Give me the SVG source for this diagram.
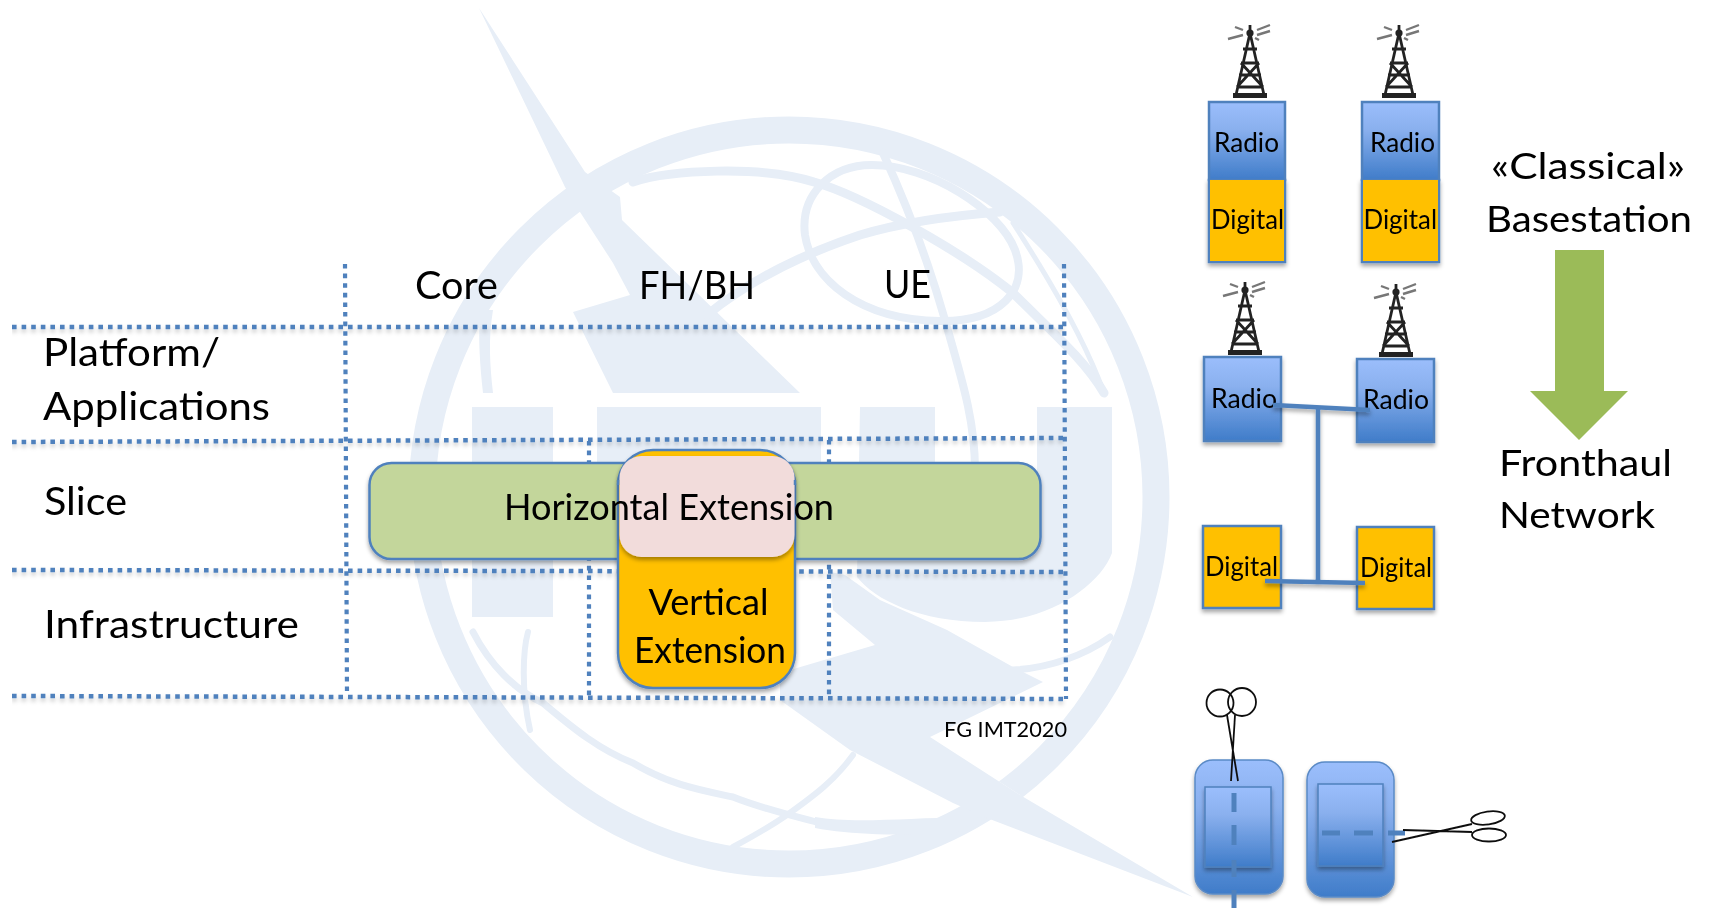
<svg xmlns="http://www.w3.org/2000/svg" xmlns:xlink="http://www.w3.org/1999/xlink" width="1712" height="908" viewBox="0 0 1712 908">
<style>
text{font-family:Lato,"Open Sans","Liberation Sans",sans-serif;fill:#000;text-anchor:start}
.lg{font-size:39px}.md{font-size:36px}.sm{font-size:27px}.xs{font-size:22px}
.wmf{fill:#e7eef7;stroke:none}
.wms{fill:none;stroke:#e7eef7;stroke-linecap:round}
.dot{fill:none;stroke:#4f81bd;stroke-width:4.5;stroke-dasharray:4.6 5}
.dotv{fill:none;stroke:#4f81bd;stroke-width:4.2;stroke-dasharray:4.6 5}
.box{stroke:#4f81bd;stroke-width:2.5}
.radio{fill:url(#blue)}.digital{fill:#ffc000}
.link{stroke:#4f81bd;stroke-width:4.5;fill:none}
.blade{stroke:#111;stroke-width:1.8;fill:none}
.tw{fill:none;stroke:#222;stroke-width:2.8}
.tw2{fill:none;stroke:#777;stroke-width:2.4}
</style>
<defs>
<linearGradient id="blue" x1="0" y1="0" x2="0" y2="1"><stop offset="0" stop-color="#9bbefc"/><stop offset=".35" stop-color="#8ab0ee"/><stop offset="1" stop-color="#3f7cc9"/></linearGradient>
<filter id="soft" x="0" y="0" width="100%" height="100%"><feGaussianBlur stdDeviation="0.55"/></filter>
<filter id="sh" x="-10%" y="-10%" width="120%" height="125%"><feDropShadow dx="0" dy="3" stdDeviation="2" flood-color="#000" flood-opacity=".35"/></filter>
<filter id="shl" x="-2%" y="-200%" width="104%" height="500%"><feDropShadow dx="0" dy="3" stdDeviation="2" flood-color="#000" flood-opacity=".22"/></filter>
<g id="tower">
<path class="tw" d="M0 6L-14 68M0 6L14 68M-9 36H9M-11 48H11M-13 60H13M-9 36L13 60M9 36L-13 60M-7 22H7"/>
<path d="M-17 66H17V71H-17Z" fill="#222"/>
<circle cx="0" cy="6" r="3.6" fill="#222"/><path class="tw" d="M0 -2V6"/>
<path class="tw2" d="M-7 3L-15 0M-7 8L-22 12M7 3L20 -2M7 8L20 4M5 11L9 13"/>
</g>
</defs>
<rect width="1712" height="908" fill="#fff"/>
<g filter="url(#soft)">
<g id="watermark">
<circle class="wms" cx="789" cy="497" r="367" stroke-width="27"/>
<path fill="#fff" d="M930 737L1020 795L1030 850L1000 822Z"/>
<path class="wmf" d="M479 8L585 172L620 197L622 220L800 393H613L573 312L630 295L613 263L580 212L565 187Z"/>
<path class="wms" stroke-width="9" d="M633 182C670 170 760 165 814 182C860 195 960 250 1013 293C1050 330 1085 360 1104 393"/>
<path class="wms" stroke-width="8" d="M872 165C830 165 800 195 805 235C812 280 860 320 940 321C1000 322 1030 290 1015 250C1000 210 930 165 872 165Z"/>
<path class="wms" stroke-width="9" d="M707 315C750 280 800 255 860 235C910 220 960 215 1000 212"/>
<path class="wms" stroke-width="8" d="M883 153C900 190 925 250 945 320C962 380 975 420 975 470"/>
<path class="wms" stroke-width="5" d="M1013 223C1050 280 1085 340 1104 393"/>
<path class="wmf" d="M480 310L493 310C488 340 490 365 493 393H483C480 365 478 340 480 310Z"/>
<path class="wmf" d="M472 407H553V617H472Z"/>
<path class="wmf" d="M597 407H821V465H749V620H669V465H597Z"/>
<path class="wmf" d="M860 407H935V520C945 545 1020 545 1037 520V407H1112V553C1100 585 1050 622 985 622C920 622 875 600 857 577Z"/>
<path class="wmf" d="M830 572L845 575L880 600L947 630L1013 667L1043 682L930 737L1020 795L1193 897L987 818L953 803L850 750L780 700V673L875 645L833 610Z"/>
<path class="wms" stroke-width="7" d="M1013 670C1050 668 1085 655 1110 637"/>
<path class="wms" stroke-width="7" d="M473 632C490 665 515 690 543 703C575 730 600 750 633 763C670 785 700 790 733 797C760 808 790 815 820 823"/>
<path class="wmf" d="M815 817C860 825 930 815 987 818L950 835C900 835 850 835 815 828Z"/>
<path class="wms" stroke-width="6" d="M853 755C835 780 815 795 787 815C765 830 750 838 733 847"/>
<path class="wms" stroke-width="6" d="M528 632C523 650 521 690 530 730"/>
</g>
<g id="connectors">
<g filter="url(#shl)">
<path class="dot" d="M12 327H1064"/>
<path class="dot" d="M12 442L1064 438"/>
<path class="dot" d="M12 570L1066 572"/>
<path class="dot" d="M12 696L1066 699"/>
</g>
<path class="dotv" d="M345 264L347 696"/>
<path class="dotv" d="M589 441V696"/>
<path class="dotv" d="M829 440V697"/>
<path class="dotv" d="M1064 264L1066 699"/>
</g>
<g id="labels">
<text class="lg" x="415" y="299" textLength="83" lengthAdjust="spacingAndGlyphs">Core</text>
<text class="lg" x="639" y="299" textLength="116" lengthAdjust="spacingAndGlyphs">FH/BH</text>
<text class="lg" x="884" y="298" textLength="47" lengthAdjust="spacingAndGlyphs">UE</text>
<text class="lg" x="43" y="366" textLength="177" lengthAdjust="spacingAndGlyphs">Platform/</text>
<text class="lg" x="43" y="420" textLength="227" lengthAdjust="spacingAndGlyphs">Applications</text>
<text class="lg" x="44" y="515" textLength="83" lengthAdjust="spacingAndGlyphs">Slice</text>
<text class="lg" x="44" y="638" textLength="255" lengthAdjust="spacingAndGlyphs">Infrastructure</text>
<text class="xs" x="944" y="737" textLength="123" lengthAdjust="spacingAndGlyphs">FG IMT2020</text>
</g>
<g id="horizontal-extension">
<rect class="box" x="369.500" y="463" width="671" height="96" rx="22" fill="#c3d69b" filter="url(#sh)"/>
</g>
<g id="vertical-extension">
<rect class="box" x="618" y="450" width="177" height="238" rx="35" fill="#ffc000" filter="url(#sh)"/>
<rect x="619.500" y="456" width="175" height="101" rx="22" fill="#f2dcdb" filter="url(#sh)"/>
<path d="M618 480V485M795 480V485" stroke="#4f81bd" stroke-width="2.500"/>
<text class="md" x="648.500" y="615" textLength="120" lengthAdjust="spacingAndGlyphs">Vertical</text>
<text class="md" x="634" y="663" textLength="152" lengthAdjust="spacingAndGlyphs">Extension</text>
</g>
<text class="md" x="504" y="520" textLength="330" lengthAdjust="spacingAndGlyphs">Horizontal Extension</text>
<g id="classical-1">
<use xlink:href="#tower" href="#tower" x="1250" y="27"/>
<rect class="box digital" x="1209" y="180" width="76" height="82" filter="url(#sh)"/>
<rect class="box radio" x="1209" y="102" width="76" height="78"/>
<rect x="1210" y="180" width="74" height="81" fill="#ffc000"/>
<text class="sm" x="1214" y="152" textLength="65" lengthAdjust="spacingAndGlyphs">Radio</text>
<text class="sm" x="1211" y="229" textLength="73" lengthAdjust="spacingAndGlyphs">Digital</text>
</g>
<g id="classical-2">
<use xlink:href="#tower" href="#tower" x="1399" y="27"/>
<rect class="box digital" x="1362" y="180" width="77" height="82" filter="url(#sh)"/>
<rect class="box radio" x="1362" y="102" width="77" height="78"/>
<rect x="1363" y="180" width="75" height="81" fill="#ffc000"/>
<text class="sm" x="1370" y="152" textLength="65" lengthAdjust="spacingAndGlyphs">Radio</text>
<text class="sm" x="1363.500" y="229" textLength="73.500" lengthAdjust="spacingAndGlyphs">Digital</text>
</g>
<g id="fronthaul-radio-1">
<use xlink:href="#tower" href="#tower" x="1245" y="284"/>
<rect class="box radio" x="1204" y="357" width="77" height="84" filter="url(#sh)"/>
<text class="sm" x="1211" y="408" textLength="66" lengthAdjust="spacingAndGlyphs">Radio</text>
</g>
<g id="fronthaul-radio-2">
<use xlink:href="#tower" href="#tower" x="1396" y="286"/>
<rect class="box radio" x="1357" y="359" width="77" height="83" filter="url(#sh)"/>
<text class="sm" x="1363" y="409" textLength="66" lengthAdjust="spacingAndGlyphs">Radio</text>
</g>
<g id="fronthaul-digital-1">
<rect class="box digital" x="1203" y="526" width="78" height="82" filter="url(#sh)"/>
<text class="sm" x="1205" y="576" textLength="73" lengthAdjust="spacingAndGlyphs">Digital</text>
</g>
<g id="fronthaul-digital-2">
<rect class="box digital" x="1357" y="527" width="77" height="82" filter="url(#sh)"/>
<text class="sm" x="1360" y="577" textLength="72" lengthAdjust="spacingAndGlyphs">Digital</text>
</g>
<g id="fronthaul-links" filter="url(#sh)">
<path class="link" d="M1273 405L1370 410M1318 408V582M1265 581L1365 583"/>
</g>
<g id="arrow">
<path d="M1555 250H1604V391H1628L1579 440L1530 391H1555Z" fill="#9bbb59"/>
</g>
<g id="side-labels">
<text class="md" x="1491" y="179" textLength="194" lengthAdjust="spacingAndGlyphs">«Classical»</text>
<text class="md" x="1486" y="232" textLength="206" lengthAdjust="spacingAndGlyphs">Basestation</text>
<text class="md" x="1499" y="476" textLength="173" lengthAdjust="spacingAndGlyphs">Fronthaul</text>
<text class="md" x="1499" y="528" textLength="156" lengthAdjust="spacingAndGlyphs">Network</text>
</g>
<g id="split-vertical">
<rect class="radio" x="1195" y="760" width="88" height="134" rx="18" stroke="#5a8ac6" stroke-width="1.500" filter="url(#sh)"/>
<rect class="radio" x="1205" y="787" width="66" height="80" stroke="#4f81bd" stroke-width="1.500" filter="url(#sh)"/>
<path d="M1234 793V812M1234 825V845M1234 860V877M1234 890V908" stroke="#4f81bd" stroke-width="5"/>
<circle cx="1220" cy="703" r="13.500" fill="none" stroke="#111" stroke-width="1.800"/>
<circle cx="1242" cy="702" r="14" fill="none" stroke="#111" stroke-width="1.800"/>
<path class="blade" d="M1227 715L1238 781M1235 715L1231 781"/>
</g>
<g id="split-horizontal">
<rect class="radio" x="1307" y="762" width="87" height="135" rx="18" stroke="#5a8ac6" stroke-width="1.500" filter="url(#sh)"/>
<rect class="radio" x="1318" y="784" width="65" height="82" stroke="#4f81bd" stroke-width="1.500" filter="url(#sh)"/>
<path d="M1322 833H1340M1354 833H1373M1388 833H1405" stroke="#4f81bd" stroke-width="5"/>
<ellipse cx="1488" cy="818" rx="17" ry="6.500" transform="rotate(-8 1488 818)" fill="none" stroke="#111" stroke-width="1.800"/>
<ellipse cx="1489" cy="835" rx="17" ry="6.500" fill="none" stroke="#111" stroke-width="1.800"/>
<path class="blade" d="M1472 824L1392 842M1472 832L1403 830"/>
</g>
</g>
</svg>
